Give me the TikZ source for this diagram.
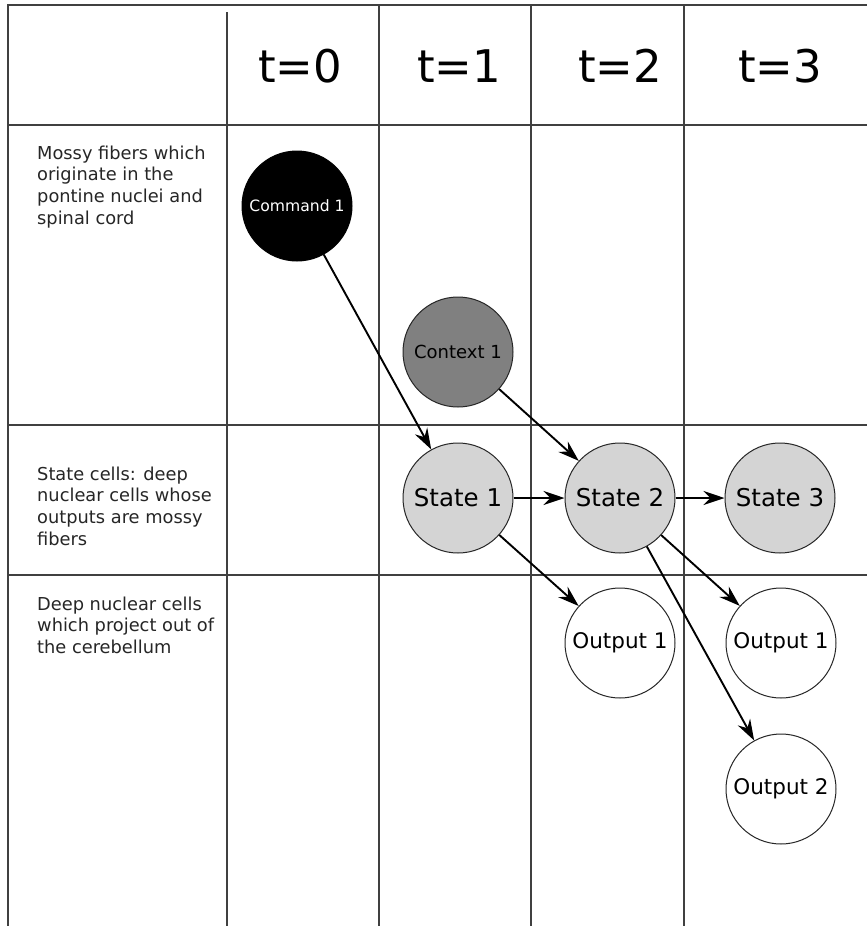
\documentclass[tikz,border=0pt]{standalone}
\usepackage{fontspec}
\setmainfont{DejaVu Sans}
\usetikzlibrary{arrows.meta}
\begin{document}
\begin{tikzpicture}[x=1pt,y=-1pt,
  grid/.style={line width=1.2pt, draw=black!75},
  cell/.style={circle, draw=black!85, line width=1pt, minimum size=110pt, inner sep=0pt},
  conn/.style={line width=1.9pt, -{Stealth[length=21pt,width=14pt,inset=7pt]}},
  side/.style={anchor=north west, inner sep=0pt, align=left, font=\fontsize{17.8}{21.7}\selectfont, text=black!85},
  hdr/.style={inner sep=0pt, font=\fontsize{45}{54}\selectfont}]
\useasboundingbox (0,0) rectangle (867,926);
\fill[white] (0,0) rectangle (867,926);
% grid
\draw[grid] (8,926) -- (8,5) -- (867,5);
\draw[grid] (227,12) -- (227,926);
\draw[grid] (379,5) -- (379,926);
\draw[grid] (531,5) -- (531,926);
\draw[grid] (684,5) -- (684,926);
\draw[grid] (8,125) -- (867,125);
\draw[grid] (8,425) -- (867,425);
\draw[grid] (8,575) -- (867,575);
% headers
\node[hdr] (h0) at (300,66) {t=0};
\node[hdr] (h1) at (459,66) {t=1};
\node[hdr] (h2) at (620,66) {t=2};
\node[hdr] (h3) at (780,66) {t=3};
% side labels
\node[side] (l1) at (37,145.5) {Mossy fibers which\\originate in the\\pontine nuclei and\\spinal cord};
\node[side] (l2) at (37,466.5) {State cells: deep\\nuclear cells whose\\outputs are mossy\\fibers};
\node[side] (l3) at (37,596.5) {Deep nuclear cells\\which project out of\\the cerebellum};
% cells
\node[cell, fill=black, draw=black, text=white, font=\fontsize{15.6}{18}\selectfont] (cmd) at (297,206) {Command 1};
\node[cell, fill=black!50, font=\fontsize{18}{21}\selectfont] (ctx) at (458,352) {Context 1};
\node[cell, fill=black!17, font=\fontsize{24.5}{28}\selectfont] (s1) at (458,498) {State 1};
\node[cell, fill=black!17, font=\fontsize{24.5}{28}\selectfont] (s2) at (620,498) {State 2};
\node[cell, fill=black!17, font=\fontsize{24.5}{28}\selectfont] (s3) at (780,498) {State 3};
\node[cell, fill=white, font=\fontsize{21.5}{25}\selectfont] (o1a) at (620,643) {Output 1};
\node[cell, fill=white, font=\fontsize{21.5}{25}\selectfont] (o1b) at (781,643) {Output 1};
\node[cell, fill=white, font=\fontsize{21.5}{25}\selectfont] (o2) at (781,789) {Output 2};
% connectors
\draw[conn] (cmd) -- (s1);
\draw[conn] (ctx) -- (s2);
\draw[conn] (s1) -- (s2);
\draw[conn] (s2) -- (s3);
\draw[conn] (s1) -- (o1a);
\draw[conn] (s2) -- (o1b);
\draw[conn] (s2) -- (o2);
\end{tikzpicture}
\end{document}
